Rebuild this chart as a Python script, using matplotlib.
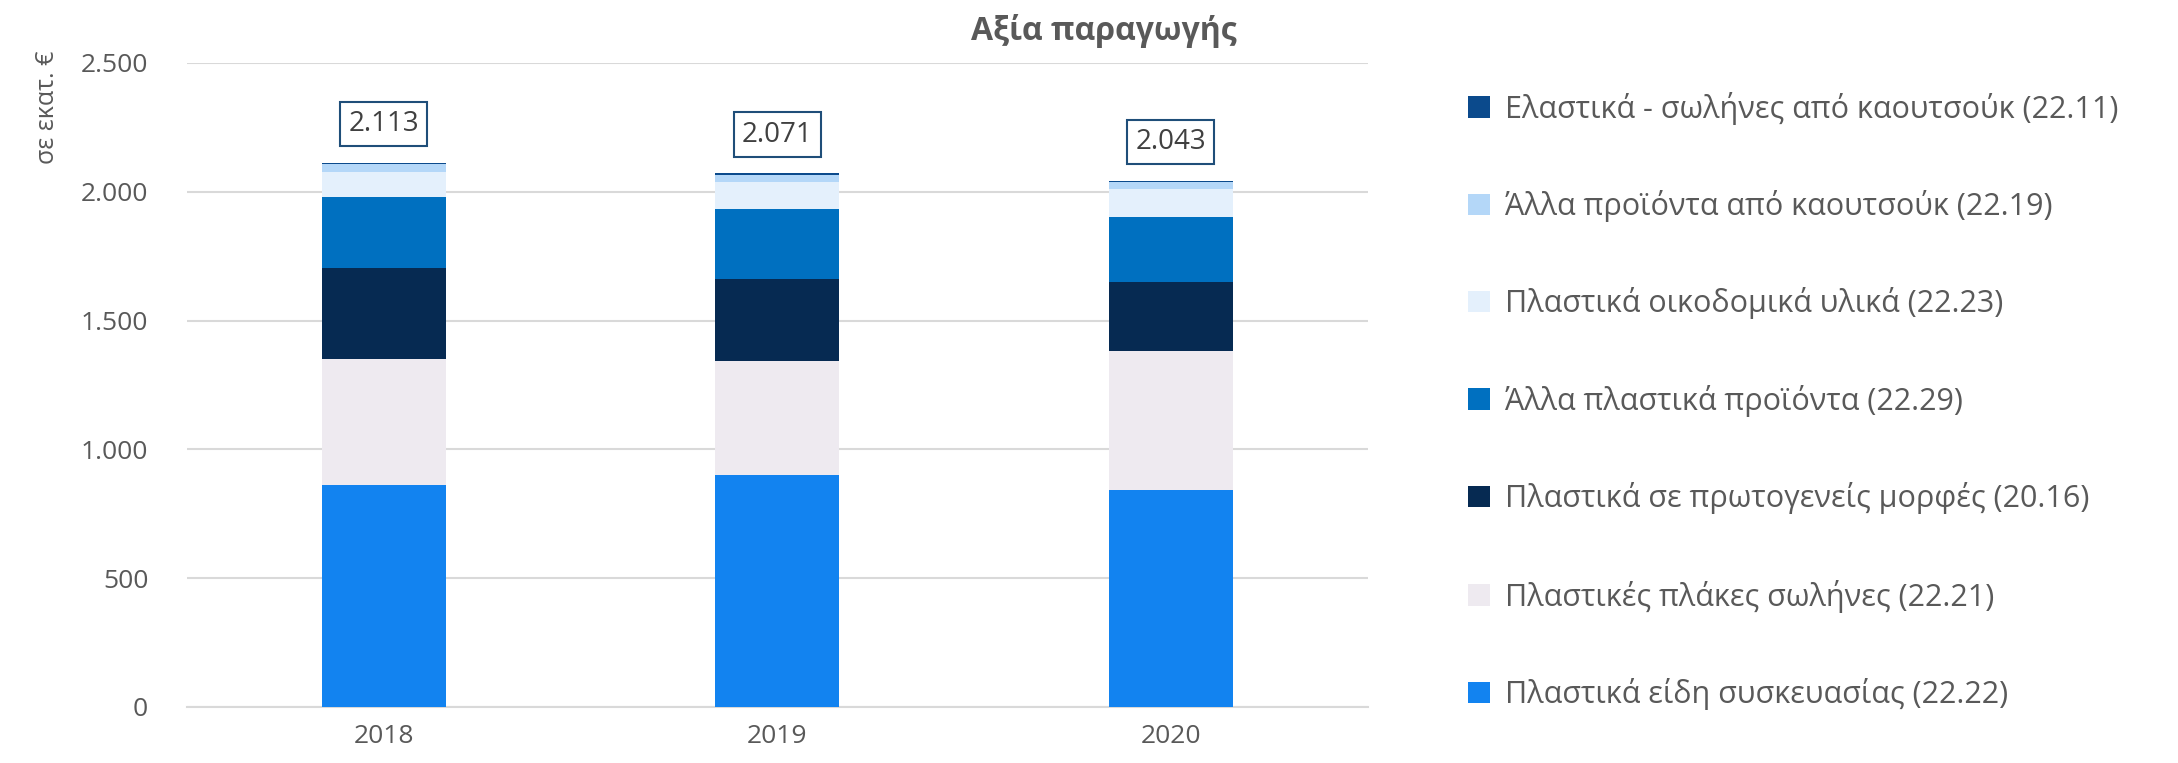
import matplotlib
matplotlib.use("Agg")
import matplotlib.pyplot as plt
from matplotlib.patches import Patch
import numpy as np

plt.rcParams['font.family'] = ['Open Sans', 'DejaVu Sans']

years = ["2018", "2019", "2020"]
series_names = [
    "Πλαστικά είδη συσκευασίας (22.22)",
    "Πλαστικές πλάκες σωλήνες (22.21)",
    "Πλαστικά σε πρωτογενείς μορφές (20.16)",
    "Άλλα πλαστικά προϊόντα (22.29)",
    "Πλαστικά οικοδομικά υλικά (22.23)",
    "Άλλα προϊόντα από καουτσούκ (22.19)",
    "Ελαστικά - σωλήνες από καουτσούκ (22.11)",
]
v_2222 = [862, 901, 842]
v_2221 = [487, 440, 538]
v_2016 = [355, 322, 268]
v_2229 = [277, 270, 255]
v_2223 = [96, 105, 107]
v_2219 = [32, 28, 28]
v_2211 = [4, 5, 5]
totals = [2113, 2071, 2043]
colors = ["#1283F0", "#EEEAF0", "#062A52", "#0070C0", "#E4F0FC", "#B4D7F8", "#0B4A8C"]

series = [v_2222, v_2221, v_2016, v_2229, v_2223, v_2219, v_2211]

fig = plt.figure(figsize=(21.78, 7.63), dpi=100)
ax = fig.add_axes([0.0859, 0.0734, 0.542, 0.8442])

x = np.arange(len(years))
bottom = np.zeros(len(years))
for vals, c in zip(series, colors):
    ax.bar(x, vals, width=0.315, bottom=bottom, color=c, zorder=3, linewidth=0)
    bottom += np.array(vals)

for xi, t in zip(x, totals):
    ax.text(xi, t + 150, f"{t:,}".replace(",", "."), ha="center", va="center",
            fontsize=20, color="#404040", zorder=5,
            bbox=dict(boxstyle="square,pad=0.3", fc="white", ec="#1F4E79", lw=1.5))

ax.set_xlim(-0.5, 2.5)
ax.set_ylim(0, 2500)
ax.set_yticks(np.arange(0, 2501, 500))
ax.set_yticklabels([f"{v:,}".replace(",", ".") for v in range(0, 2501, 500)])
ax.set_xticks(x)
ax.set_xticklabels(years)
ax.tick_params(axis="both", length=0, labelsize=19, labelcolor="#595959")
ax.tick_params(axis="y", pad=28)
ax.tick_params(axis="x", pad=12)
ax.grid(axis="y", color="#D9D9D9", lw=1.5, zorder=0)
for s in ["top", "right", "left"]:
    ax.spines[s].set_visible(False)
ax.spines["bottom"].set_color("#D9D9D9")
ax.spines["bottom"].set_linewidth(1.5)

fig.text(0.507, 0.96, "Αξία παραγωγής", ha="center", va="center", fontsize=23,
         fontweight="bold", color="#595959")
fig.text(0.022, 0.86, "σε εκατ. €", rotation=90, ha="center", va="center",
         fontsize=18, color="#595959")

handles = [Patch(facecolor=c, edgecolor="none") for c in colors][::-1]
labels = series_names[::-1]
leg = fig.legend(handles, labels, loc="upper left", bbox_to_anchor=(0.6616, 0.916),
                 frameon=False, fontsize=22, labelcolor="#595959",
                 handlelength=0.7, handleheight=0.7, handletextpad=0.5,
                 labelspacing=2.14)

fig.savefig("out.png", dpi=100)
